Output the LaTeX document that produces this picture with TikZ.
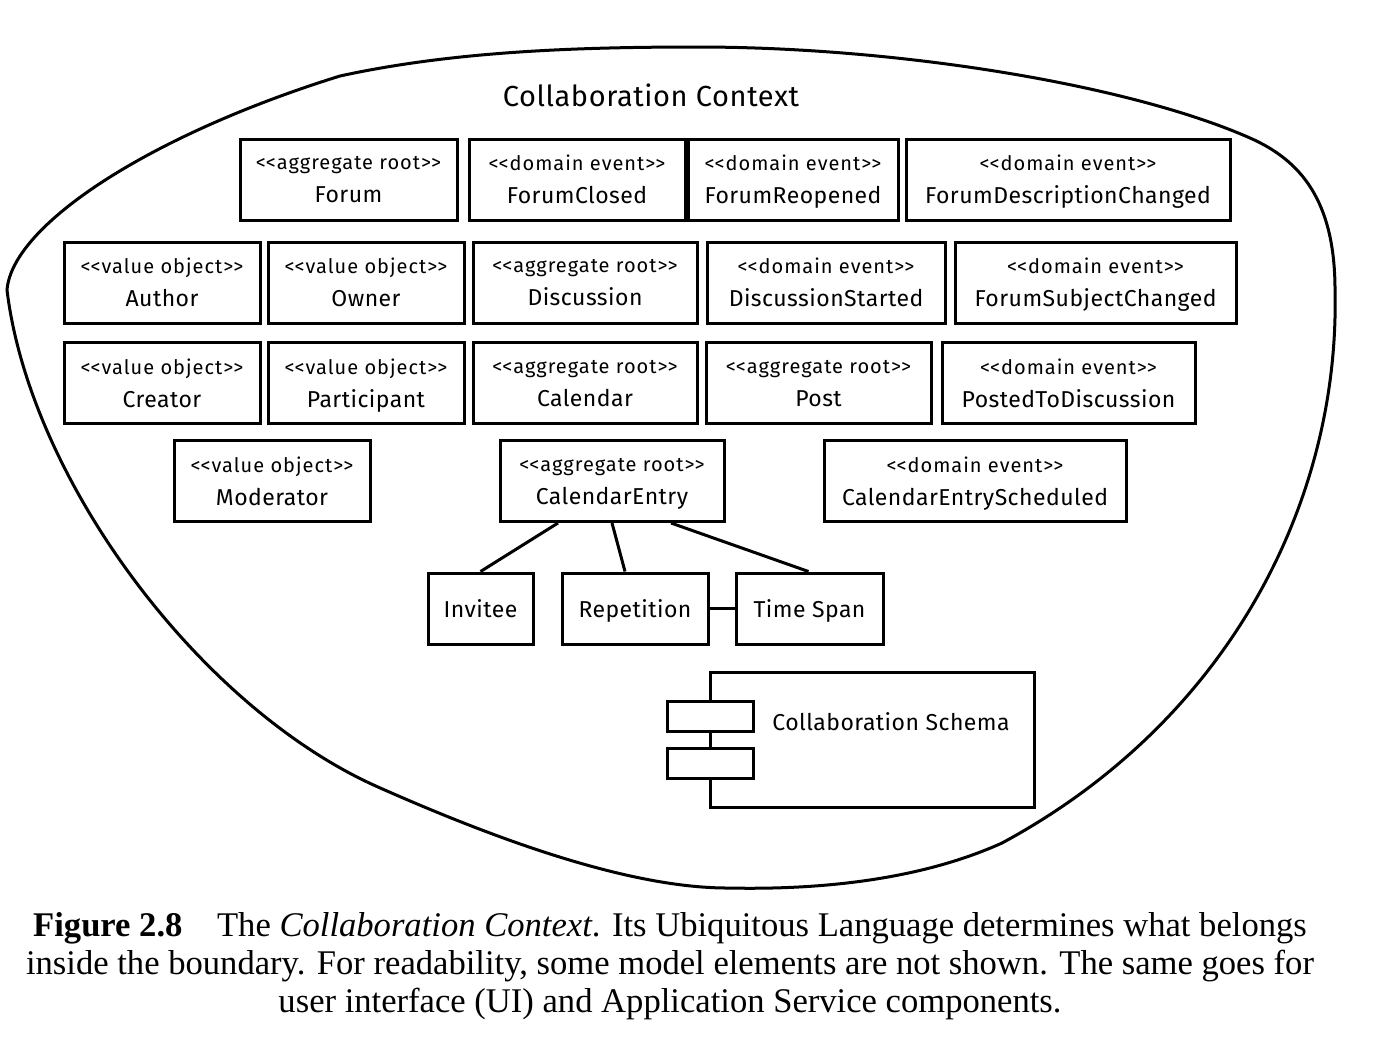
\documentclass[tikz,border=0pt]{standalone}
\usepackage{fontspec}
\setmainfont{Fira Sans}[LetterSpace=2]
\newfontfamily\stereofont{Fira Sans}[LetterSpace=5]
\newfontfamily\capfont{Liberation Serif}
\usetikzlibrary{shapes}

\newcommand{\stereo}[1]{{\stereofont\fontsize{10}{11}\selectfont<\kern0pt<#1>\kern0pt>}}

\tikzset{
  element/.style={draw, line width=1.5pt, minimum height=40.5pt, align=center,
    inner sep=0pt, text depth=0pt, font=\fontsize{11.5}{13}\selectfont},
  part/.style={draw, line width=1.5pt, minimum height=35.5pt, inner sep=0pt,
    text depth=0pt, font=\fontsize{11.5}{13}\selectfont},
  port/.style={draw, line width=1.5pt, fill=white, minimum width=43pt,
    minimum height=15pt, inner sep=0pt},
  boundary/.style={line width=1.5pt},
  link/.style={line width=1.5pt},
  caption/.style={align=center, font=\capfont\fontsize{17.3}{19}\selectfont}
}

\begin{document}
\begin{tikzpicture}[x=0.5pt, y=-0.5pt]
    \useasboundingbox (0,0) rectangle (1384,1056);
    % context boundary
    \draw [boundary] (7,290) .. controls (12,225) and (150,135) .. (340,76)
      .. controls (450,52) and (570,47) .. (697,47)
      .. controls (900,47) and (1130,85) .. (1250,138)
      .. controls (1300,160) and (1335,200) .. (1335,290)
      .. controls (1340,500) and (1230,720) .. (1002,843)
      .. controls (920,880) and (820,890) .. (728,888)
      .. controls (640,888) and (520,850) .. (378,787)
      .. controls (200,708) and (30,480) .. (7,290) -- cycle;
    \node [font=\fontsize{14.5}{16}\selectfont] (title) at (651,95) {Collaboration Context};

    % First Row
    \node [element, minimum width=108.5pt] (forum) at (348.5,179.5) {\stereo{aggregate root}\\[3.5pt]Forum};
    \node [element, minimum width=108pt] (closed) at (577,179.5) {\stereo{domain event}\\[3.5pt]ForumClosed};
    \node [element, minimum width=105pt] (reopened) at (793,179.5) {\stereo{domain event}\\[3.5pt]ForumReopened};
    \node [element, minimum width=162pt] (descchanged) at (1068,179.5) {\stereo{domain event}\\[3.5pt]ForumDescriptionChanged};
    % Second Row
    \node [element, minimum width=98pt] (author) at (162,282.5) {\stereo{value object}\\[3.5pt]Author};
    \node [element, minimum width=98pt] (owner) at (366,282.5) {\stereo{value object}\\[3.5pt]Owner};
    \node [element, minimum width=112pt] (discussion) at (585,282.5) {\stereo{aggregate root}\\[3.5pt]Discussion};
    \node [element, minimum width=119pt] (started) at (826,282.5) {\stereo{domain event}\\[3.5pt]DiscussionStarted};
    \node [element, minimum width=140.5pt] (subjchanged) at (1095.5,282.5) {\stereo{domain event}\\[3.5pt]ForumSubjectChanged};
    % Third Row
    \node [element, minimum width=98pt] (creator) at (162,383) {\stereo{value object}\\[3.5pt]Creator};
    \node [element, minimum width=98pt] (participant) at (366,383) {\stereo{value object}\\[3.5pt]Participant};
    \node [element, minimum width=112pt] (calendar) at (585,383) {\stereo{aggregate root}\\[3.5pt]Calendar};
    \node [element, minimum width=112.5pt] (post) at (818.5,383) {\stereo{aggregate root}\\[3.5pt]Post};
    \node [element, minimum width=126.5pt] (posted) at (1068.5,383) {\stereo{domain event}\\[3.5pt]PostedToDiscussion};
    % Fourth Row
    \node [element, minimum width=98pt] (moderator) at (272,481) {\stereo{value object}\\[3.5pt]Moderator};
    \node [element, minimum width=112pt] (entry) at (612,481) {\stereo{aggregate root}\\[3.5pt]CalendarEntry};
    \node [element, minimum width=151pt] (scheduled) at (975,481) {\stereo{domain event}\\[3.5pt]CalendarEntryScheduled};
    % parts of the calendar entry
    \node [part, minimum width=52.5pt] (invitee) at (480.5,608.5) {Invitee};
    \node [part, minimum width=73pt] (repetition) at (635,608.5) {Repetition};
    \node [part, minimum width=73.5pt] (timespan) at (809.5,608.5) {Time Span};
    \draw [link] ([xshift=-27pt]entry.south) -- (invitee.north);
    \draw [link] (entry.south) -- ([xshift=-5pt]repetition.north);
    \draw [link] ([xshift=29.5pt]entry.south) -- ([xshift=-0.5pt]timespan.north);
    \draw [link] (repetition) -- (timespan);

    % schema component
    \node [draw, line width=1.5pt, minimum width=162pt, minimum height=67.5pt, inner sep=0pt] (schema) at (872,739.5) {};
    \node [port] (port1) at (710,716) {};
    \node [port] (port2) at (710,763) {};
    \node [anchor=west, inner sep=0pt, font=\fontsize{11.5}{13}\selectfont] (schemalabel) at (772,722) {Collaboration Schema};

    % caption
    \node [caption] (caption) at (670,966) {\textbf{Figure 2.8}\quad The \textit{Collaboration Context}. Its Ubiquitous Language determines what belongs\\
      inside the boundary. For readability, some model elements are not shown. The same goes for\\
      user interface (UI) and Application Service components.};
\end{tikzpicture}
\end{document}
